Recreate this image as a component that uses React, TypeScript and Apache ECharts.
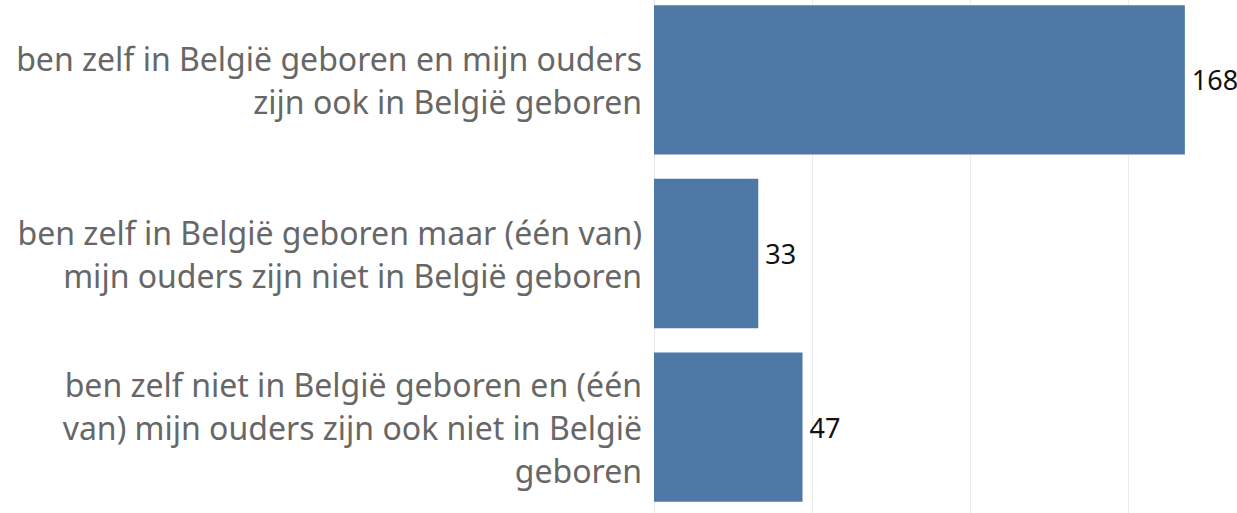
import React, { useEffect, useRef } from "react";
import * as echarts from "echarts";

const categories = [
  "ben zelf in België geboren en mijn ouders\nzijn ook in België geboren",
  "ben zelf in België geboren maar (één van)\nmijn ouders zijn niet in België geboren",
  "ben zelf niet in België geboren en (één\nvan) mijn ouders zijn ook niet in België\ngeboren",
];
const values = [168, 33, 47];

export default function App() {
  const ref = useRef<HTMLDivElement>(null);
  useEffect(() => {
    document.body.style.margin = "0";
    document.body.style.overflow = "hidden";
    const chart = echarts.init(ref.current!, undefined, { renderer: "svg" });
    chart.setOption({
      animation: false,
      grid: { left: 654, right: 0, top: 0, bottom: 0, containLabel: false },
      xAxis: {
        type: "value",
        min: 0,
        max: 184.5,
        interval: 50,
        axisLabel: { show: false },
        axisTick: { show: false },
        axisLine: { show: false },
        splitLine: { show: true, lineStyle: { color: "#ececec", width: 1 } },
      },
      yAxis: {
        type: "category",
        inverse: true,
        data: categories,
        axisTick: { show: false },
        axisLine: { show: true, lineStyle: { color: "#e6e6e6" } },
        axisLabel: {
          margin: 12,
          color: "#676767",
          fontFamily: "Noto Sans",
          fontSize: 32,
          lineHeight: 43,
          align: "right",
        },
      },
      series: [
        {
          type: "bar",
          data: values,
          barCategoryGap: "14%",
          itemStyle: { color: "#4e79a7" },
          label: {
            show: true,
            position: "right",
            distance: 7,
            color: "#111",
            fontFamily: "Noto Sans",
            fontSize: 27,
          },
        },
      ],
    });
    return () => chart.dispose();
  }, []);
  return <div ref={ref} style={{ width: 1237, height: 521, marginTop: -7 }} />;
}
